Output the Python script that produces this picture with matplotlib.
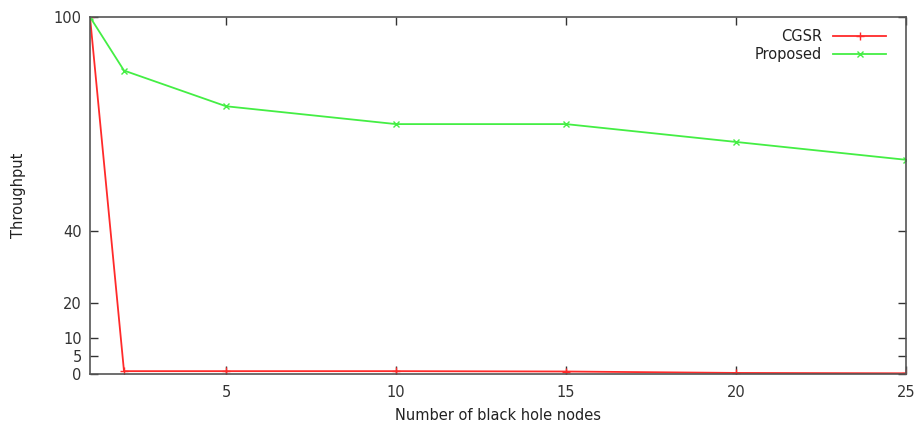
import matplotlib
matplotlib.use("Agg")
import matplotlib.pyplot as plt

# data
nodes = [1, 2, 5, 10, 15, 20, 25]
cgsr = [100, 0.8, 0.8, 0.8, 0.7, 0.3, 0.2]
proposed = [100, 85, 75, 70, 70, 65, 60]

x_ticks = [5, 10, 15, 20, 25]
y_ticks = [0, 5, 10, 20, 40, 100]

plt.rcParams['font.family'] = 'DejaVu Sans'

fig = plt.figure(figsize=(9.14, 4.28), dpi=100)
ax = fig.add_axes([90 / 914, 54 / 428, 816 / 914, 357 / 428])

ax.plot(nodes, cgsr, color="#ff2a2a", lw=1.3, marker="+", ms=6, mew=1.0, label="CGSR")
ax.plot(nodes, proposed, color="#44ee44", lw=1.3, marker="x", ms=5, mew=1.0, label="Proposed")

ax.set_xlim(1, 25)
ax.set_ylim(0, 100)
ax.set_xticks(x_ticks)
ax.set_yticks(y_ticks)
ax.tick_params(direction="in", top=True, right=True, length=6, width=1,
               colors="#333333", labelsize=10.5, pad=6)
ax.tick_params(axis="x", pad=8)
for s in ax.spines.values():
    s.set_color("#555555")
    s.set_linewidth(1.2)

ax.set_xlabel("Number of black hole nodes", fontsize=10.5, color="#222222", labelpad=6)
ax.set_ylabel("Throughput", fontsize=10.5, color="#222222", labelpad=20)

leg = ax.legend(loc="upper right", bbox_to_anchor=(0.988, 0.995), frameon=False,
                markerfirst=False, fontsize=10.5,
                handlelength=3.6, handletextpad=0.8, labelspacing=0.2,
                borderaxespad=0.3)
for t in leg.get_texts():
    t.set_color("#222222")

fig.savefig("out.png", dpi=100)
